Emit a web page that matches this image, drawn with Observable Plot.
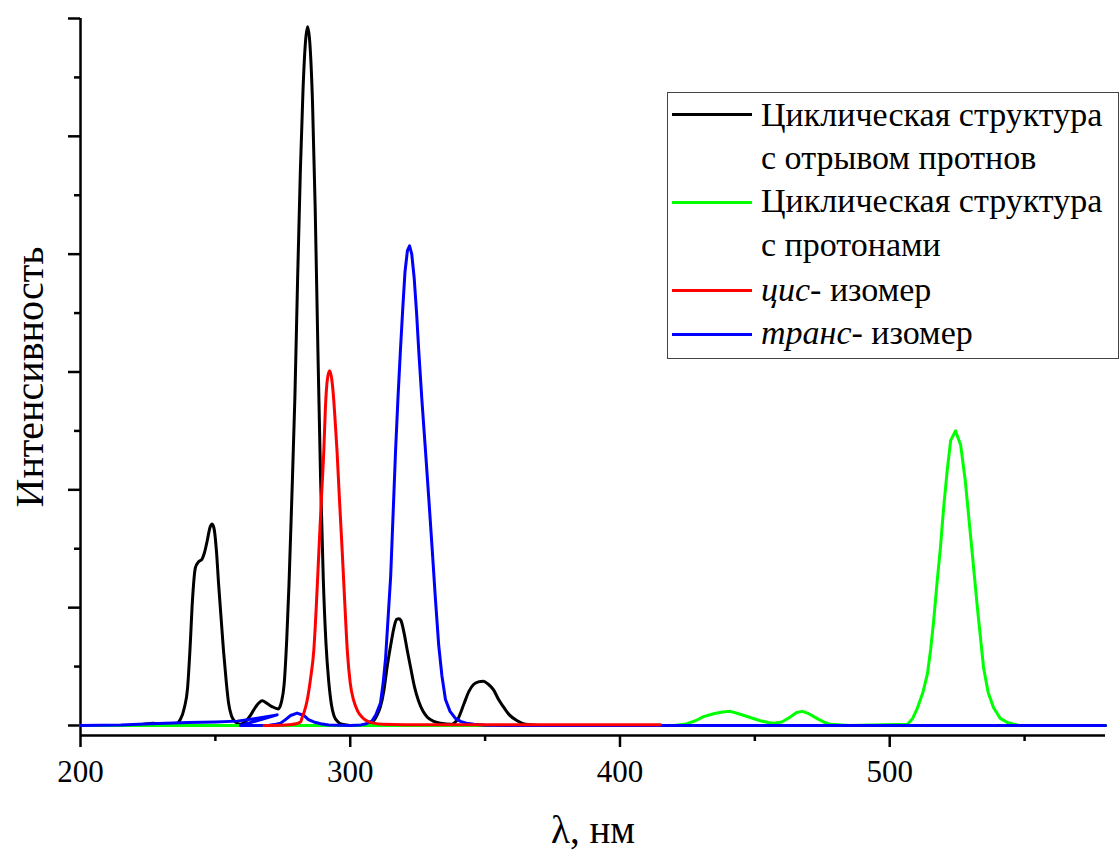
<!DOCTYPE html>
<html><head><meta charset="utf-8">
<script src="https://cdn.jsdelivr.net/npm/d3@7"></script>
<script src="https://cdn.jsdelivr.net/npm/@observablehq/plot@0.6"></script>
<style>
body{margin:0;background:#fff;}
#wrap{position:relative;width:1120px;height:850px;font-family:"Liberation Serif","Tinos","DejaVu Serif",serif;color:#000}
#legend{position:absolute;left:667px;top:92px;width:452px;height:267px;border:1.5px solid #444;box-sizing:border-box;background:#fff}
.row{position:absolute;left:93px;font-size:34px;line-height:34px;white-space:nowrap}
.sw{position:absolute;left:4px;width:80px;height:3px}
</style></head>
<body><div id="wrap"></div>
<script>
// wavelength (nm), intensity (arb. units)
const cyclicDeprotonated = [
 [200,0],[215,0],[222,0.005],[227,0.02],[231,0.01],[235,0.01],[237,0.05],[238.5,0.15],[239.7,0.32],[240.6,0.65],
 [241.5,1.06],[242.6,1.34],[243.8,1.39],[245,1.41],[246,1.47],[247,1.57],[248,1.68],[248.8,1.71],[249.6,1.66],
 [250.4,1.48],[251.2,1.2],[252,0.95],[253,0.64],[254,0.38],[254.9,0.19],[256,0.08],[257.4,0.03],[259.3,0.01],
 [261,0.03],[263,0.085],[265,0.16],[267.4,0.21],[269,0.19],[271,0.16],[273.3,0.14],[274.5,0.2],[275.5,0.35],
 [276.5,0.75],[277.3,1.2],[278.3,1.9],[279.5,2.8],[280.5,3.8],[281.5,4.7],[282.5,5.4],[283.4,5.8],[284.2,5.93],
 [285,5.8],[286,5.3],[287,4.4],[288,3.2],[289,2.1],[290,1.25],[291,0.7],[292,0.38],[293,0.18],[294,0.08],
 [295.5,0.03],[297,0.01],[300,0],[304,0],[306.4,0.01],[308.7,0.04],[310,0.09],[311.2,0.16],[312.5,0.3],
 [313.7,0.5],[315,0.68],[316.3,0.84],[317.2,0.9],[318,0.905],[318.8,0.89],[320,0.78],[321.2,0.63],[322.4,0.49],
 [323.8,0.33],[325.3,0.21],[327,0.12],[328.6,0.07],[331,0.035],[333.5,0.02],[337.2,0.01],[338.5,0.02],[340,0.06],
 [342.1,0.18],[344,0.29],[345.8,0.35],[347.5,0.37],[349.3,0.376],[351.2,0.35],[353.2,0.3],[355,0.22],[356.9,0.155],
 [359,0.09],[361.9,0.04],[365,0.01],[370,0],[580,0]
];
const cyclicProtonated = [
 [200,0],[420,0],[424,0.01],[428,0.04],[431,0.075],[434.7,0.1],[438,0.115],[441,0.12],[444,0.1],[448,0.07],
 [452,0.04],[455,0.025],[457,0.02],[460,0.03],[463,0.07],[465.5,0.11],[467.6,0.12],[470,0.1],[473,0.06],
 [476,0.025],[478,0.01],[485,0],[506.6,0.01],[508.5,0.06],[510.3,0.15],[512.3,0.28],[514,0.44],[515.2,0.65],
 [516.3,0.89],[517.5,1.2],[518.8,1.51],[520,1.85],[521.3,2.16],[522.6,2.42],[524.4,2.5],[526.3,2.38],[528,2.08],
 [529.3,1.77],[530.6,1.46],[532.5,1.0],[534.8,0.49],[536.5,0.28],[538.5,0.15],[541,0.06],[543.6,0.025],[548,0],[580,0]
];
const cisIsomer = [
 [268,0],[276,0.005],[280,0.015],[281.6,0.03],[282.2,0.07],[283,0.12],[284,0.21],[285.3,0.4],[286.5,0.64],
 [287.5,1.05],[288.4,1.49],[289.3,1.92],[290.2,2.33],[290.8,2.7],[291.6,2.95],[292.4,3.01],[293.2,2.93],
 [293.9,2.76],[294.5,2.55],[295.1,2.33],[296,1.92],[297,1.49],[298,1.03],[298.9,0.64],[300,0.36],[301.3,0.21],
 [302.8,0.12],[304.4,0.07],[306.5,0.035],[308.7,0.02],[312,0.01],[320,0.006],[415,0.006]
];
const transIsomer = [
 [200,0],[215,0.005],[226,0.015],[240,0.025],[250,0.03],[258.1,0.037],[265,0.06],[272.9,0.09],[259.3,0],
 [265,0],[270,0.003],[272.5,0.01],[274.2,0.02],[276,0.05],[277.9,0.085],[280.3,0.105],[282.8,0.085],[284.5,0.05],
 [286.5,0.03],[289,0.015],[292,0.005],[300,0],[304,0.005],[306,0.015],[308.1,0.04],[309.5,0.09],[311.2,0.19],
 [312.2,0.36],[313.1,0.57],[314,0.9],[315,1.27],[315.9,1.8],[316.8,2.33],[317.7,2.78],[318.6,3.18],[319.5,3.55],
 [320.3,3.85],[321.2,4.03],[322,4.07],[322.8,4.0],[323.7,3.8],[324.6,3.5],[325.4,3.18],[326.6,2.75],[327.9,2.33],
 [329.2,1.9],[330.4,1.49],[331.5,1.1],[332.8,0.68],[334,0.42],[335.3,0.22],[337,0.12],[339,0.06],[340.9,0.035],
 [343,0.02],[345.8,0.01],[350,0.003],[360,0],[580,0]
];

const xDomain = [200, 580];
const yDomain = [-0.085, 6];
const xMajor = [200, 300, 400, 500];
const xMinor = [250, 350, 450, 550];
const yMajor = [0, 1, 2, 3, 4, 5, 6];
const yMinor = [0.5, 1.5, 2.5, 3.5, 4.5, 5.5];

const legendItems = [
 {color:"#000000", lines:["Циклическая структура","с отрывом протнов"]},
 {color:"#00ff00", lines:["Циклическая структура","с протонами"]},
 {color:"#ff0000", lines:["<i>цис</i>- изомер"]},
 {color:"#0000ff", lines:["<i>транс</i>- изомер"]}
];
const xLabel = "λ, нм";
const yLabel = "Интенсивность";

const toRows = arr => arr.map(([x, y]) => ({x, y}));
const lw = 3;
const serif = "'Liberation Serif', Tinos, 'DejaVu Serif', serif";

const chart = Plot.plot({
  width: 1120, height: 850,
  marginLeft: 80, marginRight: 15, marginTop: 18, marginBottom: 115,
  x: {domain: xDomain},
  y: {domain: yDomain},
  style: {fontFamily: serif, color: "#000", background: "#fff", overflow: "visible"},
  marks: [
    Plot.axisX({ticks: xMajor, tickSize: 12, tickPadding: 12, fontSize: 31, strokeWidth: 2.5, label: null}),
    Plot.axisX({ticks: xMinor, tickSize: 6, tickFormat: () => "", strokeWidth: 2.5, label: null}),
    Plot.axisY({ticks: yMajor, tickSize: 12, tickFormat: () => "", strokeWidth: 2.5, label: null}),
    Plot.axisY({ticks: yMinor, tickSize: 6, tickFormat: () => "", strokeWidth: 2.5, label: null}),
    Plot.ruleX([xDomain[0]], {strokeWidth: 2.5}),
    Plot.ruleY([yDomain[0]], {strokeWidth: 2.5}),
    Plot.line(toRows(cyclicDeprotonated), {x: "x", y: "y", stroke: "#000000", strokeWidth: lw, curve: "monotone-x"}),
    Plot.line(toRows(cyclicProtonated), {x: "x", y: "y", stroke: "#00ff00", strokeWidth: lw, curve: "linear"}),
    Plot.line(toRows(transIsomer), {x: "x", y: "y", stroke: "#0000ff", strokeWidth: lw, curve: "linear"}),
    Plot.line(toRows(cisIsomer), {x: "x", y: "y", stroke: "#ff0000", strokeWidth: lw, curve: "monotone-x"}),
    Plot.text([yLabel], {frameAnchor: "left", dx: -50, rotate: -90, fontSize: 40, textAnchor: "middle", lineAnchor: "middle"}),
    Plot.text([xLabel], {frameAnchor: "bottom", dy: 95, fontSize: 39, textAnchor: "middle", lineAnchor: "middle"})
  ]
});

const wrap = document.getElementById("wrap");
wrap.appendChild(chart);

const leg = document.createElement("div");
leg.id = "legend";
const baselines = [[33.5, 76.5], [119.5, 163.5], [208.5], [251.5]];
const swatchY = [21.5, 109.5, 197.5, 241.5];
legendItems.forEach((item, i) => {
  const sw = document.createElement("div");
  sw.className = "sw";
  sw.style.top = (swatchY[i] - 1.5) + "px";
  sw.style.background = item.color;
  leg.appendChild(sw);
  item.lines.forEach((t, j) => {
    const r = document.createElement("div");
    r.className = "row";
    r.style.top = (baselines[i][j] - 28.5) + "px";
    r.innerHTML = t;
    leg.appendChild(r);
  });
});
wrap.appendChild(leg);
</script>
</body></html>
